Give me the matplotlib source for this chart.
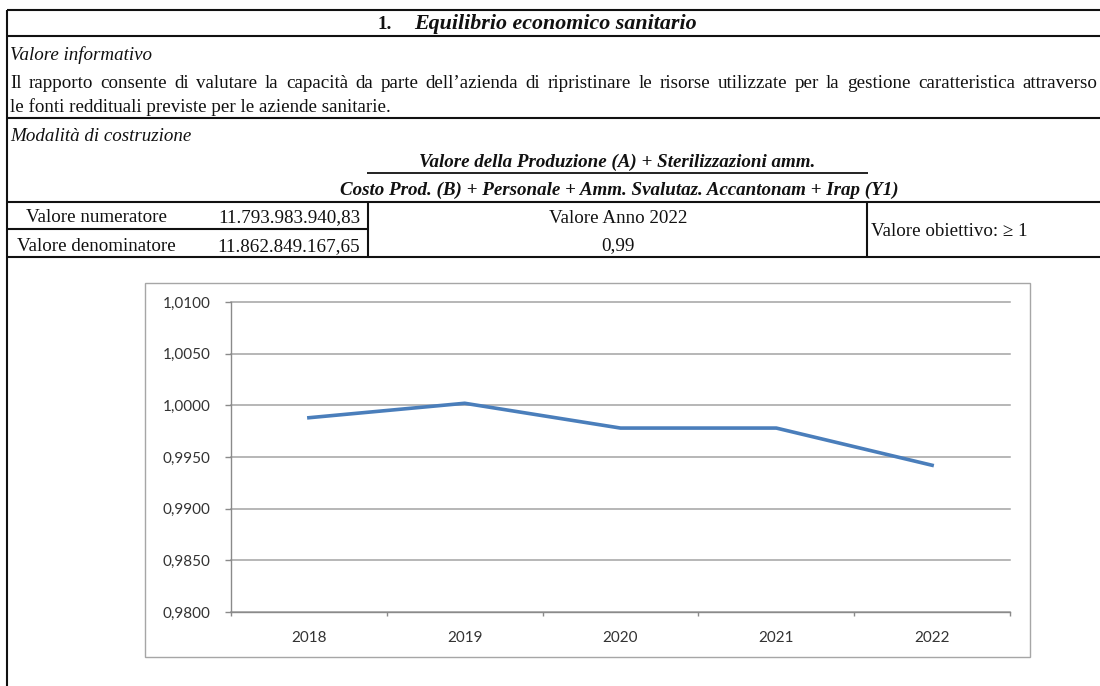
import matplotlib
matplotlib.use('Agg')
import matplotlib.pyplot as plt
from matplotlib.patches import Rectangle
from matplotlib.ticker import FuncFormatter

# ---------------- data ----------------
years = ['2018', '2019', '2020', '2021', '2022']
ratio = [0.9988, 1.0002, 0.9978, 0.9978, 0.9942]
y_ticks = [0.980, 0.985, 0.990, 0.995, 1.000, 1.005, 1.010]

title_num = '1.'
title_text = 'Equilibrio economico sanitario'
section1 = 'Valore informativo'
para_line1 = ("Il rapporto consente di valutare la capacità da parte dell\u2019azienda di "
              "ripristinare le risorse utilizzate per la gestione caratteristica attraverso")
para_line2 = "le fonti reddituali previste per le aziende sanitarie."
section2 = 'Modalità di costruzione'
numerator_formula = 'Valore della Produzione (A) + Sterilizzazioni amm.'
denominator_formula = 'Costo Prod. (B) + Personale + Amm. Svalutaz. Accantonam + Irap (Y1)'
num_label, num_value = 'Valore numeratore', '11.793.983.940,83'
den_label, den_value = 'Valore denominatore', '11.862.849.167,65'
year_label, year_value = 'Valore Anno 2022', '0,99'
target_label = 'Valore obiettivo: \u2265 1'

# ---------------- figure ----------------
W, H, DPI = 1100, 686, 100
fig = plt.figure(figsize=(W / DPI, H / DPI), dpi=DPI, facecolor='white')
ax0 = fig.add_axes([0, 0, 1, 1])
ax0.set_xlim(0, W)
ax0.set_ylim(H, 0)
ax0.axis('off')

SERIF = ['Liberation Serif', 'DejaVu Serif']
FS = 13.7
INK = '#111111'
LW = 1.5


def hline(y, x0, x1, lw=LW):
    ax0.plot([x0, x1], [y, y], color=INK, lw=lw, solid_capstyle='butt')


def vline(x, y0, y1, lw=LW):
    ax0.plot([x, x], [y0, y1], color=INK, lw=lw, solid_capstyle='butt')


def txt(x, y, s, ha='left', weight='normal', style='normal', size=FS):
    return ax0.text(x, y, s, ha=ha, va='baseline', family=SERIF, fontsize=size,
                    fontweight=weight, fontstyle=style, color=INK)


# table lines
hline(10, 7, W)
hline(36, 7, W)
hline(118, 7, W)
hline(202, 7, W)
hline(229, 7, 368)
hline(257, 7, W)
vline(7, 10, H)
vline(368, 202, 257)
vline(867, 202, 257)

# title
txt(378, 29, title_num, weight='bold')
txt(414, 29, title_text, weight='bold', style='italic', size=15.8)

txt(10, 60, section1, style='italic')

# justified paragraph line 1
renderer = fig.canvas.get_renderer()
words = para_line1.split(' ')
widths = []
for w in words:
    t = txt(0, -100, w)
    widths.append(t.get_window_extent(renderer).width)
    t.remove()
x_start, x_end = 10, 1097
gap = (x_end - x_start - sum(widths)) / (len(words) - 1)
xx = x_start
for w, wd in zip(words, widths):
    txt(xx, 88, w)
    xx += wd + gap
txt(10, 112, para_line2)

txt(10, 141, section2, style='italic')

txt(617, 167, numerator_formula, ha='center', weight='bold', style='italic')
hline(173, 367, 868, lw=1.3)
txt(619, 195, denominator_formula, ha='center', weight='bold', style='italic')

txt(96, 222, num_label, ha='center')
txt(289, 222, num_value, ha='center')
txt(96, 251, den_label, ha='center')
txt(289, 251, den_value, ha='center')
txt(618, 223, year_label, ha='center')
txt(618, 250, year_value, ha='center')
txt(871, 236, target_label)

# chart frame
ax0.add_patch(Rectangle((145, 283), 885, 374, fill=False, ec='#a6a6a6', lw=1.0))

# ---------------- chart ----------------
left, right, top, bottom = 231, 1010, 302, 612
ax = fig.add_axes([left / W, 1 - bottom / H, (right - left) / W, (bottom - top) / H])
ax.set_facecolor('none')
x = list(range(len(years)))
ax.plot(x, ratio, color='#4a7ebb', lw=2.6, solid_joinstyle='round', zorder=3)
ax.set_xlim(-0.5, len(years) - 0.5)
ax.set_ylim(y_ticks[0], y_ticks[-1])
ax.set_yticks(y_ticks)
ax.yaxis.set_major_formatter(FuncFormatter(lambda v, p: f'{v:.4f}'.replace('.', ',')))
ax.set_xticks(x)
ax.set_xticklabels(years)
ax.set_xticks([i - 0.5 for i in range(len(years) + 1)], minor=True)

CH_FONT = ['Lato', 'DejaVu Sans']
for lab in ax.get_xticklabels() + ax.get_yticklabels():
    lab.set_family(CH_FONT)
    lab.set_fontsize(11)
    lab.set_color('#333333')

ax.tick_params(axis='x', which='major', length=0, pad=14)
ax.tick_params(axis='x', which='minor', length=3, width=1, color='#8a8a8a', direction='out')
ax.tick_params(axis='y', length=4, width=1, color='#8a8a8a', direction='out', pad=10.5)
ax.grid(axis='y', color='#a3a3a3', lw=1.1)
ax.set_axisbelow(True)
for gl in ax.get_ygridlines():
    gl.set_clip_on(False)
for s in ['top', 'right']:
    ax.spines[s].set_visible(False)
for s in ['left', 'bottom']:
    ax.spines[s].set_color('#8a8a8a')
    ax.spines[s].set_linewidth(1.0)

fig.savefig('out.png', dpi=DPI, facecolor='white')
